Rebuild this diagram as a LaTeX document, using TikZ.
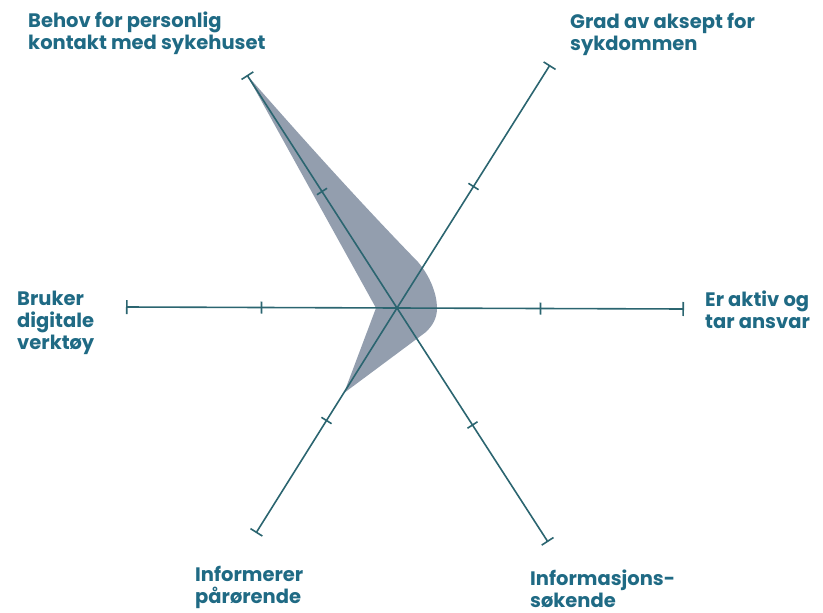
\documentclass[tikz,border=0pt]{standalone}
\usepackage{fontspec}
\setmainfont{Poppins}
\usetikzlibrary{arrows.meta,calc}
\definecolor{axiscol}{HTML}{2B6570}
\definecolor{fillcol}{HTML}{939EAE}
\definecolor{txtcol}{HTML}{1F6A84}
\begin{document}
\begin{tikzpicture}[x=1pt,y=-1pt,
  axisline/.style={draw=axiscol,line width=1.6pt,-{Bar[width=14pt,line width=1.6pt]}},
  tickmark/.style={draw=axiscol,line width=1.6pt},
  lab/.style={anchor=base west,align=left,text=txtcol,inner sep=0pt,
    font=\fontsize{19.5}{22}\selectfont\bfseries}]
\useasboundingbox (0,0) rectangle (823,613);
% centre and axis ends
\coordinate (c) at (397,308);
\coordinate (eUL) at (247,75);
\coordinate (eUR) at (550,65);
\coordinate (eL) at (126,307);
\coordinate (eR) at (684,309);
\coordinate (eLL) at (256,533);
\coordinate (eLR) at (548,542);
% data shape
\fill[fillcol] (247,75) .. controls (330,170) and (385,228) .. (418,262)
  .. controls (430,276) and (437,294) .. (437,308)
  .. controls (437,318) and (433,325) .. (426,332)
  -- (344,393) -- (376,308) -- cycle;
% axes
\foreach \e in {eUL,eUR,eL,eR,eLL,eLR}{
  \draw[axisline] (c) -- (\e);
  \coordinate (m) at ($(c)!0.5!(\e)$);
  \draw[tickmark] ($(m)!6pt!90:(\e)$) -- ($(m)!6pt!-90:(\e)$);
}
% labels (anchor at baseline of last line)
\node[lab] (tUL) at (28,49) {Behov for personlig\\kontakt med sykehuset};
\node[lab] (tUR) at (570,50) {Grad av aksept for\\sykdommen};
\node[lab] (tL) at (17,349) {Bruker\\digitale\\verktøy};
\node[lab] (tR) at (705,328) {Er aktiv og\\tar ansvar};
\node[lab] (tLL) at (195,603) {Informerer\\pårørende};
\node[lab] (tLR) at (530,607) {Informasjons-\\søkende};
\end{tikzpicture}
\end{document}
